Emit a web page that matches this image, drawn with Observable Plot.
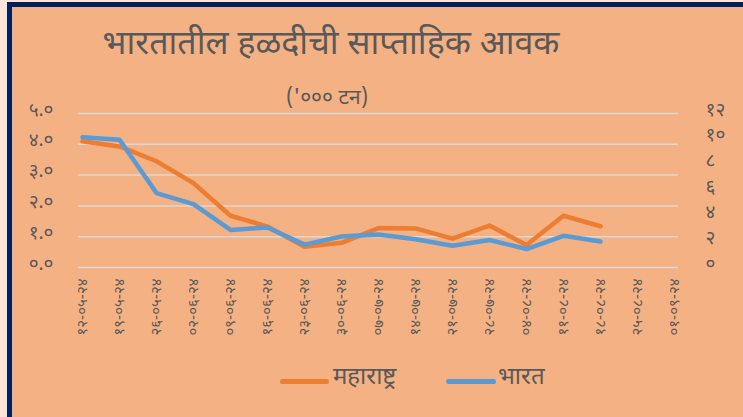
<!DOCTYPE html>
<html>
<head>
<meta charset="utf-8">
<script src="https://cdn.jsdelivr.net/npm/d3@7"></script>
<script src="https://cdn.jsdelivr.net/npm/@observablehq/plot@0.6"></script>
<style>
  html, body { margin: 0; padding: 0; width: 743px; height: 417px; overflow: hidden; background: #FCE4D6; }
  body { position: relative; font-family: "Noto Sans Devanagari", "Noto Sans", "Lohit Devanagari", sans-serif; color: #595959; }
  #frame { position: absolute; left: 7px; top: 2px; width: 736px; height: 415px; box-sizing: border-box;
           border-left: 5px solid #002060; border-top: 5px solid #002060; background: #F4B183; }
  #title { position: absolute; left: 0; width: 662px; top: 24px; text-align: center; font-size: 34px; line-height: 44px; white-space: nowrap; }
  #subtitle { position: absolute; left: 0; width: 654px; top: 85px; text-align: center; font-size: 21px; line-height: 28px; white-space: nowrap; }
  #chart { position: absolute; left: 0; top: 100px; }
  .leg { position: absolute; top: 362px; font-size: 24px; line-height: 32px; white-space: nowrap; }
  .sw { position: absolute; top: 379px; height: 5px; border-radius: 3px; }
</style>
</head>
<body>
<div id="frame"></div>
<div id="title">भारतातील हळदीची साप्ताहिक आवक</div>
<div id="subtitle">('००० टन)</div>
<div id="chart"></div>
<div class="sw" style="left:280px;width:49px;background:#ED7D31"></div>
<div class="leg" style="left:333px">महाराष्ट्र</div>
<div class="sw" style="left:446px;width:50px;background:#5B9BD5"></div>
<div class="leg" style="left:498px">भारत</div>
<script>
const weeks = ["१२-०५-२४","१९-०५-२४","२६-०५-२४","०२-०६-२४","०९-०६-२४","१६-०६-२४","२३-०६-२४","३०-०६-२४","०७-०७-२४","१४-०७-२४","२१-०७-२४","२८-०७-२४","०४-०८-२४","११-०८-२४","१८-०८-२४","२५-०८-२४","०१-०९-२४"];
const maharashtra = [4.10, 3.93, 3.45, 2.74, 1.68, 1.33, 0.67, 0.80, 1.28, 1.27, 0.94, 1.36, 0.73, 1.68, 1.34];
const india = [10.15, 9.96, 5.80, 4.94, 2.93, 3.12, 1.78, 2.42, 2.57, 2.20, 1.70, 2.14, 1.44, 2.47, 2.02];
const leftTicks = [0, 1, 2, 3, 4, 5];
const rightTicks = [0, 2, 4, 6, 8, 10, 12];

const ratio = 12 / 5; // secondary axis max / primary axis max
const toDeva = s => String(s).replace(/[0-9]/g, d => "०१२३४५६७८९"[+d]);
const rows = maharashtra.map((m, i) => ({week: weeks[i], m, ind: india[i]}));

const chart = Plot.plot({
  width: 743,
  height: 245,
  marginLeft: 78,
  marginRight: 65,
  marginTop: 13,
  marginBottom: 78,
  style: {background: "transparent", color: "#595959", fontFamily: "'Noto Sans Devanagari', 'Noto Sans', sans-serif", fontSize: "13px"},
  x: {type: "point", domain: weeks, padding: 0},
  y: {domain: [0, 5]},
  marks: [
    Plot.ruleY(leftTicks, {stroke: "#D9D9D9", strokeWidth: 1.5}),
    Plot.axisY(leftTicks, {anchor: "left", tickSize: 0, tickPadding: 25, tickFormat: d => toDeva(d.toFixed(1)), fontSize: 19, dy: -4, label: null}),
    Plot.axisY(rightTicks.map(k => k / ratio), {anchor: "right", tickSize: 0, tickPadding: 27, tickFormat: d => toDeva(Math.round(d * ratio)), fontSize: 19, dy: -4, label: null}),
    Plot.axisX({tickRotate: -90, tickSize: 0, tickPadding: 11, fontSize: 15, label: null}),
    Plot.line(rows, {x: "week", y: "m", stroke: "#ED7D31", strokeWidth: 4.5, strokeLinecap: "round", strokeLinejoin: "round"}),
    Plot.line(rows, {x: "week", y: d => d.ind / ratio, stroke: "#5B9BD5", strokeWidth: 4.5, strokeLinecap: "round", strokeLinejoin: "round"})
  ]
});
document.getElementById("chart").appendChild(chart);
</script>
</body>
</html>
